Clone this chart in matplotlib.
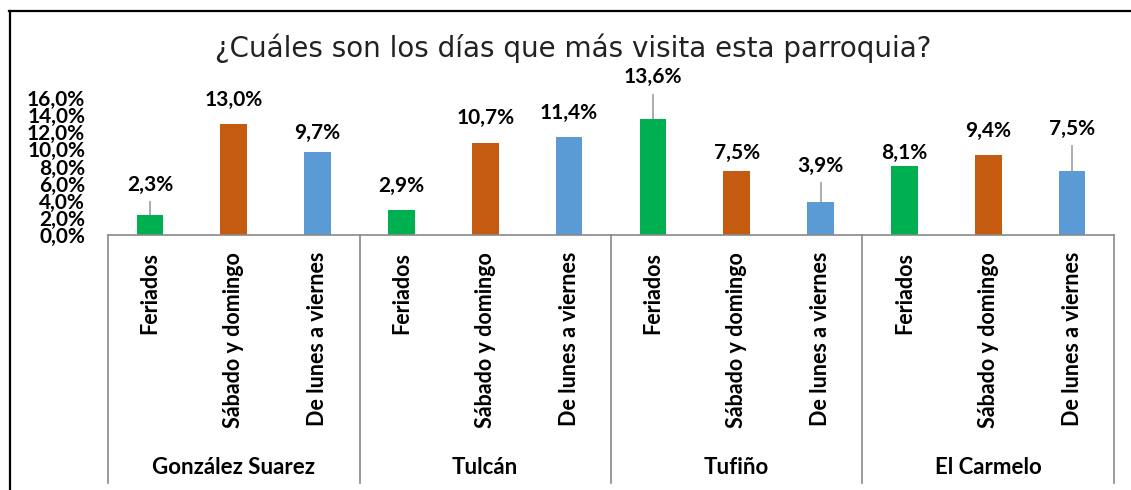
import matplotlib
matplotlib.use("Agg")
import matplotlib.pyplot as plt
from matplotlib.lines import Line2D
import numpy as np

title = "¿Cuáles son los días que más visita esta parroquia?"
groups = ["González Suarez", "Tulcán", "Tufiño", "El Carmelo"]
categories = ["Feriados", "Sábado y domingo", "De lunes a viernes"]
values = [2.3, 13.0, 9.7,
          2.9, 10.7, 11.4,
          13.6, 7.5, 3.9,
          8.1, 9.4, 7.5]
yticks = [0, 2, 4, 6, 8, 10, 12, 14, 16]

# style: label centre heights (value units) and leader-line flags
label_y = [5.85, 15.8, 11.9,
           5.7, 13.7, 14.3,
           18.4, 9.6, 8.1,
           9.6, 12.2, 12.4]
leader = [True, False, False,
          False, False, False,
          True, False, True,
          False, False, True]
cat_colors = ["#00B050", "#C55A11", "#5B9BD5"]

W, H = 1131, 490
fig = plt.figure(figsize=(W / 100, H / 100), dpi=100)
ax = fig.add_axes([108 / W, (H - 235) / H, (1114 - 108) / W, 137 / H])

n = len(values)
x = np.arange(n)
colors = [cat_colors[i % 3] for i in range(n)]
ax.bar(x, values, width=0.32, color=colors, zorder=2)

ax.set_xlim(-0.5, n - 0.5)
ax.set_ylim(0, 16)
ax.set_yticks(yticks)
ax.set_yticklabels([f"{t:.1f}%".replace(".", ",") for t in yticks],
                   fontsize=15, fontweight="bold", family="Lato")
ax.tick_params(axis="y", length=0, pad=16.5)
ax.set_xticks([])
for s in ["top", "right", "left"]:
    ax.spines[s].set_visible(False)
ax.spines["bottom"].set_color("#898989")
ax.spines["bottom"].set_linewidth(1.2)

# value labels with leader lines
for i, v in enumerate(values):
    txt = f"{v:.1f}%".replace(".", ",")
    ax.text(x[i], label_y[i], txt, ha="center", va="center", fontsize=15,
            fontweight="bold", family="Lato", clip_on=False, zorder=3)
    if leader[i]:
        ax.plot([x[i], x[i]], [v, label_y[i] - 2.0], color="#A6A6A6",
                lw=1.3, clip_on=False, zorder=1)

# multi-level category axis
tr = ax.get_xaxis_transform()
for k in range(len(groups) + 1):
    xd = k * 3 - 0.5
    ax.plot([xd, xd], [0, -1.81], color="#898989", lw=1.2,
            transform=tr, clip_on=False)
for i in range(n):
    ax.text(x[i], -0.124, categories[i % 3], rotation=90, ha="center",
            va="top", fontsize=15.5, fontweight="bold", family="Lato",
            transform=tr)
for g, name in enumerate(groups):
    ax.text(g * 3 + 1, -1.70, name, ha="center", va="center", fontsize=16,
            fontweight="bold", family="Lato", transform=tr)

# title
fig.text(573 / W, 1 - 48 / H, title, ha="center", va="center", fontsize=20,
         family="DejaVu Sans", color="#222222")

# outer border
fig.add_artist(Line2D([9.5 / W, 9.5 / W], [0, 1 - 11 / H], color="black",
                     lw=1.6, transform=fig.transFigure))
fig.add_artist(Line2D([9 / W, 1], [1 - 11 / H, 1 - 11 / H], color="black",
                     lw=1.6, transform=fig.transFigure))

fig.savefig("out.png", dpi=100)
